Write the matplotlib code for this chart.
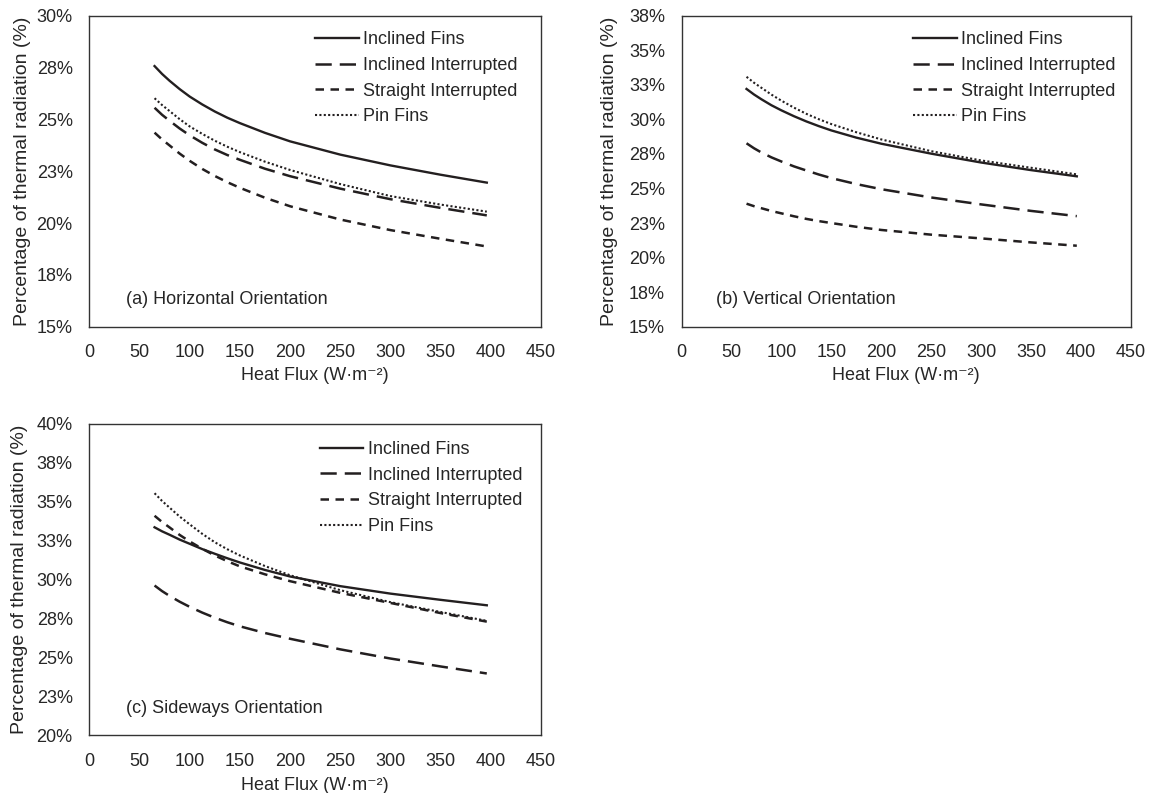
import matplotlib
matplotlib.use("Agg")
import matplotlib.pyplot as plt

plt.rcParams['font.family'] = ['Liberation Sans', 'DejaVu Sans']
plt.rcParams['font.size'] = 13

# heat flux (W/m2)
heat_flux = [65, 72.5, 80, 90, 100, 112.5, 125, 137.5, 150, 175, 200, 250, 300, 350, 396]

series_names = ["Inclined Fins", "Inclined Interrupted", "Straight Interrupted", "Pin Fins"]

# (a) horizontal orientation, % of thermal radiation
horiz_inclined = [27.57, 27.19, 26.86, 26.46, 26.10, 25.72, 25.38, 25.08, 24.82, 24.35,
                  23.94, 23.30, 22.78, 22.33, 21.95]
horiz_incl_int = [25.56, 25.22, 24.93, 24.56, 24.23, 23.87, 23.55, 23.28, 23.05, 22.62,
                  22.26, 21.66, 21.15, 20.73, 20.37]
horiz_str_int = [24.36, 24.03, 23.74, 23.35, 23.00, 22.61, 22.27, 21.97, 21.70, 21.22,
                 20.81, 20.17, 19.66, 19.24, 18.87]
horiz_pin = [26.02, 25.69, 25.40, 25.01, 24.66, 24.30, 23.97, 23.68, 23.42, 22.96,
             22.56, 21.88, 21.30, 20.89, 20.55]

# (b) vertical orientation
vert_inclined = [32.20, 31.80, 31.45, 31.02, 30.65, 30.23, 29.85, 29.51, 29.20, 28.68,
                 28.24, 27.52, 26.88, 26.33, 25.88]
vert_incl_int = [28.27, 27.91, 27.60, 27.25, 26.95, 26.60, 26.30, 26.01, 25.75, 25.32,
                 24.95, 24.35, 23.85, 23.38, 23.00]
vert_str_int = [23.90, 23.72, 23.57, 23.37, 23.20, 22.99, 22.80, 22.64, 22.50, 22.23,
                22.00, 21.66, 21.39, 21.10, 20.86]
vert_pin = [33.08, 32.65, 32.28, 31.79, 31.35, 30.85, 30.40, 30.01, 29.66, 29.07,
            28.55, 27.70, 27.03, 26.50, 26.02]

# (c) sideways orientation
side_inclined = [33.36, 33.10, 32.88, 32.57, 32.30, 31.96, 31.66, 31.37, 31.10, 30.62,
                 30.20, 29.58, 29.10, 28.70, 28.35]
side_incl_int = [29.62, 29.26, 28.95, 28.58, 28.25, 27.88, 27.55, 27.26, 27.00, 26.57,
                 26.20, 25.52, 24.93, 24.42, 23.97]
side_str_int = [34.10, 33.70, 33.35, 32.87, 32.45, 31.98, 31.55, 31.18, 30.85, 30.34,
                29.90, 29.15, 28.50, 27.85, 27.30]
side_pin = [35.55, 35.05, 34.62, 34.05, 33.55, 32.94, 32.40, 31.95, 31.55, 30.87,
            30.28, 29.32, 28.55, 27.92, 27.35]

x_ticks = [0, 50, 100, 150, 200, 250, 300, 350, 400, 450]

ticks_a = [15, 17.5, 20, 22.5, 25, 27.5, 30]
labels_a = ['15%', '18%', '20%', '23%', '25%', '28%', '30%']
ticks_b = [15, 17.5, 20, 22.5, 25, 27.5, 30, 32.5, 35, 37.5]
labels_b = ['15%', '18%', '20%', '23%', '25%', '28%', '30%', '33%', '35%', '38%']
ticks_c = [20, 22.5, 25, 27.5, 30, 32.5, 35, 37.5, 40]
labels_c = ['20%', '23%', '25%', '28%', '30%', '33%', '35%', '38%', '40%']

line_col = '#231f20'
txt_col = '#262626'
styles = [
    dict(linestyle='-', lw=1.7),
    dict(linestyle=(0, (6.5, 3.2)), lw=1.8),
    dict(linestyle=(0, (3.4, 2.6)), lw=1.8),
    dict(linestyle=(0, (1, 1.1)), lw=1.5),
]

fig = plt.figure(figsize=(11.54, 7.93), dpi=100)

# rect, data, yticks, ylabels, tag, tag x, legend x, legend y, ylabel x, xlabel y
panels = [
    ([0.0774, 0.588, 0.3914, 0.3922], [horiz_inclined, horiz_incl_int, horiz_str_int, horiz_pin],
     ticks_a, labels_a, "(a) Horizontal Orientation", 0.082, 0.4995, 0.950, -0.130, -0.130),
    ([0.5907, 0.588, 0.3891, 0.3922], [vert_inclined, vert_incl_int, vert_str_int, vert_pin],
     ticks_b, labels_b, "(b) Vertical Orientation", 0.076, 0.516, 0.950, -0.141, -0.130),
    ([0.0774, 0.0728, 0.3914, 0.3926], [side_inclined, side_incl_int, side_str_int, side_pin],
     ticks_c, labels_c, "(c) Sideways Orientation", 0.082, 0.510, 0.945, -0.136, -0.134),
]

for rect, data, yt, yl, tag, tag_x, leg_x, leg_y, ylab_x, xlab_y in panels:
    ax = fig.add_axes(rect)
    for name, vals, st in zip(series_names, data, styles):
        ax.plot(heat_flux, vals, color=line_col, label=name, **st)
    ax.set_xlim(0, 450)
    ax.set_ylim(yt[0], yt[-1])
    ax.set_xticks(x_ticks)
    ax.set_yticks(yt)
    ax.set_yticklabels(yl)
    ax.tick_params(axis='both', length=0, labelsize=13, colors=txt_col)
    ax.tick_params(axis='y', pad=12)
    ax.tick_params(axis='x', pad=12.5)
    for sp in ax.spines.values():
        sp.set_color('#333333')
        sp.set_linewidth(1.0)
    ax.set_ylabel("Percentage of thermal radiation (%)", fontsize=14, color=txt_col)
    ax.set_xlabel("Heat Flux (W\u00b7m\u207b\u00b2)", fontsize=13, color=txt_col)
    ax.yaxis.set_label_coords(ylab_x, 0.5)
    ax.xaxis.set_label_coords(0.5, xlab_y)
    ax.text(tag_x, 0.087, tag, transform=ax.transAxes, va='center', ha='left',
            fontsize=13, color=txt_col)
    ax.legend(loc='upper left', bbox_to_anchor=(leg_x, leg_y), frameon=False,
              borderpad=0, handlelength=2.42, handletextpad=0.24, labelspacing=0.48,
              borderaxespad=0, fontsize=13, labelcolor=txt_col)

fig.savefig("out.png", dpi=100)
